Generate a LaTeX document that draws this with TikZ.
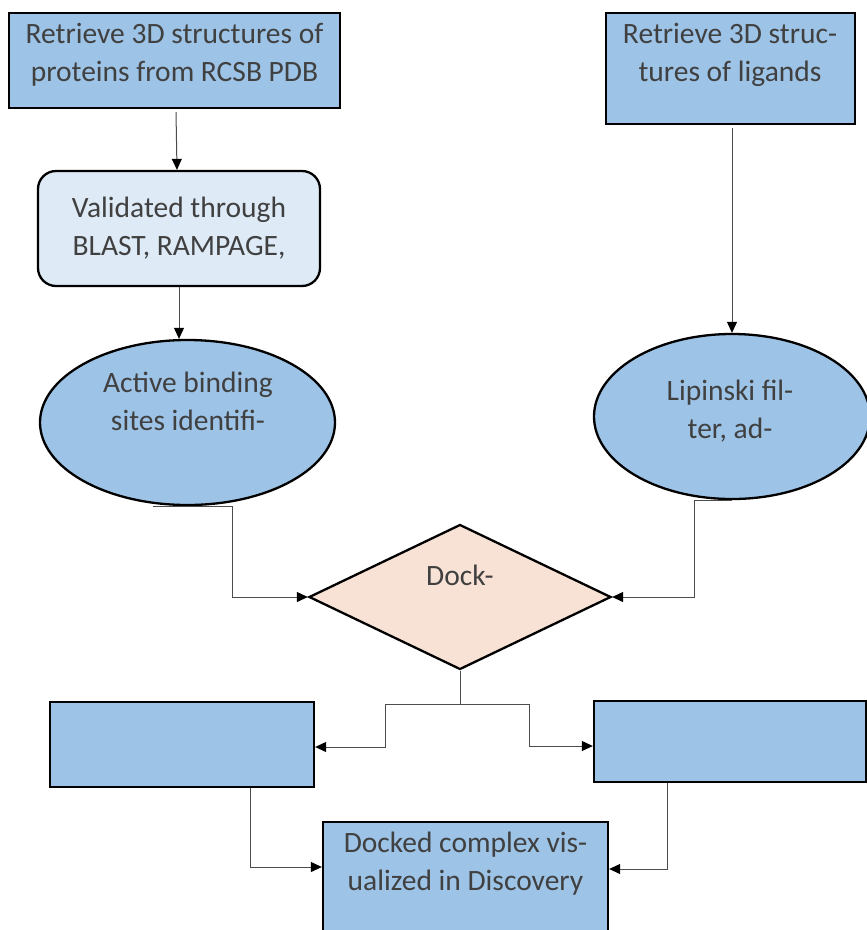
\documentclass[tikz,border=0pt]{standalone}
\usepackage{fontspec}
\setmainfont{Carlito}
\usepackage{tikz}
\usetikzlibrary{shapes.geometric, arrows.meta, positioning, calc}
\definecolor{boxblue}{HTML}{9DC3E6}
\definecolor{paleblue}{HTML}{DEEBF7}
\definecolor{peach}{HTML}{F8E2D5}
\definecolor{txtgray}{HTML}{404040}

\begin{document}
\begin{tikzpicture}[x=1pt, y=-1pt,
  box/.style={draw=black, line width=2.3pt, fill=boxblue, inner sep=0pt},
  lbl/.style={text=txtgray, align=center, font=\fontsize{29.5}{38}\selectfont},
  link/.style={draw=black!70, line width=1pt},
  arr/.style={-{Triangle[length=11pt,width=10pt,black]}}]
\useasboundingbox (0,0) rectangle (867,930);
\clip (0,0) rectangle (867,930);

% Protein branch
\node[box, minimum width=331, minimum height=95] (prot) at (174.5,60.5) {};
\node[lbl] (protlbl) at (174.5,55) {Retrieve 3D structures of\\proteins from RCSB PDB};
\node[box, fill=paleblue, rounded corners=18pt, minimum width=282, minimum height=115, lbl] (valid) at (179,228.5) {Validated through\\BLAST, RAMPAGE,};
\node[box, ellipse, minimum width=295, minimum height=165] (active) at (187.5,422.5) {};
\node[lbl] (activelbl) at (188,401) {Active binding\\sites identifi-};

% Ligand branch
\node[box, minimum width=249, minimum height=111] (lig) at (730.5,68.5) {};
\node[lbl] (liglbl) at (730,55) {Retrieve 3D struc-\\tures of ligands};
\node[box, ellipse, minimum width=276, minimum height=165] (lipinski) at (732,416.5) {};
\node[lbl] (lipinskilbl) at (730,411) {Lipinski fil-\\ter, ad-};

% Docking and results
\node[box, diamond, fill=peach, minimum width=302, minimum height=145] (dock) at (460,597) {};
\node[lbl] (docklbl) at (460,575) {Dock-};
\node[box, minimum width=264, minimum height=85] (lb) at (182,744.5) {};
\node[box, minimum width=272, minimum height=81] (rb) at (730,741.5) {};
\node[box, minimum width=285, minimum height=130] (docked) at (465.5,887) {};
\node[lbl] (dockedlbl) at (465.5,864) {Docked complex vis-\\ualized in Discovery};

% Connectors
\draw[link, arr] ([xshift=1.5pt,yshift=-3pt]prot.south) -- ([xshift=-2pt]valid.north);
\draw[link, arr] (valid.south) -- (valid.south |- active.north);
\draw[link, arr] ([yshift=-3pt]lig.south -| lipinski.north) -- (lipinski.north);
\draw[link, arr] ([xshift=-35pt]active.south) -- ++(80,0) |- (dock.west);
\draw[link, arr] (lipinski.south) -- ++(-38,0) |- (dock.east);
\draw[link] (dock.south) -- ++(0,34) coordinate (split);
\draw[link, arr] (split) -- ++(-75,0) |- ([yshift=-2.5pt]lb.east);
\draw[link, arr] (split) -- ++(69,0) |- ([yshift=-4.5pt]rb.west);
\draw[link, arr] ([xshift=68pt]lb.south) |- ([yshift=20pt]docked.west);
\draw[link, arr] ([xshift=-63pt]rb.south) |- ([yshift=18pt]docked.east);
\end{tikzpicture}
\end{document}
